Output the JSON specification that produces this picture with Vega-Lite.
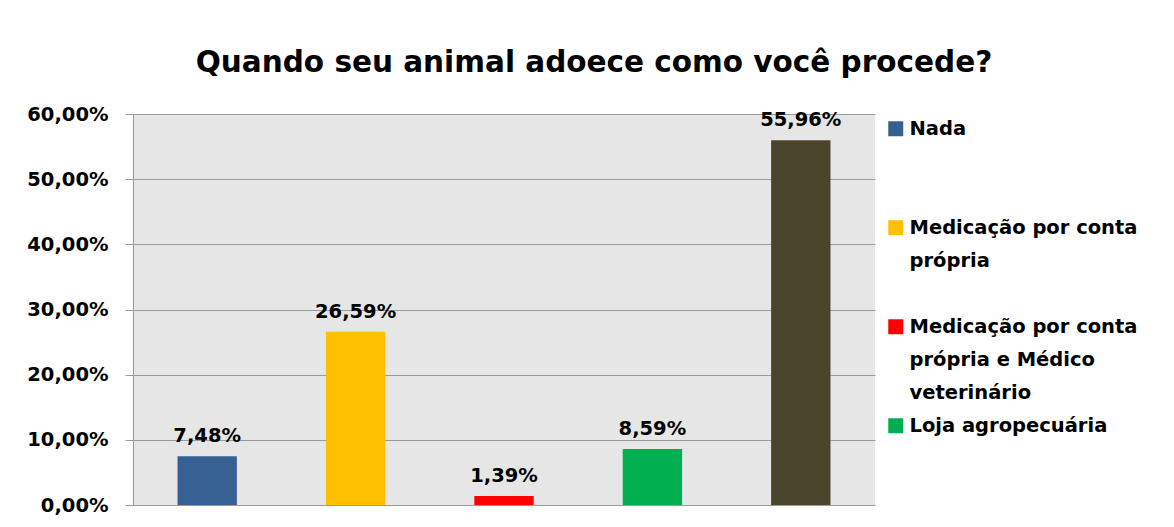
{
  "$schema": "https://vega.github.io/schema/vega-lite/v6.json",
  "autosize": {"type": "none"},
  "padding": {"left": 133, "top": 114, "right": 299, "bottom": 22},
  "width": 742,
  "height": 391,
  "background": "white",
  "title": {
    "text": "Quando seu animal adoece como você procede?",
    "font": "DejaVu Sans",
    "fontSize": 29.5,
    "fontWeight": "bold",
    "color": "black",
    "anchor": "middle",
    "frame": "group",
    "dx": 90,
    "baseline": "alphabetic",
    "offset": 3
  },
  "data": {
    "values": [
      {"categoria": "Nada", "valor": 0.0748},
      {"categoria": "Medicação por conta própria", "valor": 0.2659},
      {"categoria": "Medicação por conta própria e Médico veterinário", "valor": 0.0139},
      {"categoria": "Loja agropecuária", "valor": 0.0859},
      {"categoria": "Médico veterinário", "valor": 0.5596}
    ]
  },
  "encoding": {
    "x": {
      "field": "categoria",
      "type": "nominal",
      "sort": null,
      "scale": {"paddingInner": 0.6, "paddingOuter": 0.3},
      "axis": null
    },
    "y": {
      "field": "valor",
      "type": "quantitative",
      "scale": {"domain": [0, 0.6], "nice": false},
      "axis": {
        "values": [0, 0.1, 0.2, 0.3, 0.4, 0.5, 0.6],
        "format": ".2%",
        "title": null,
        "labelFont": "DejaVu Sans",
        "labelFontSize": 19.5,
        "labelFontWeight": "bold",
        "labelColor": "black",
        "labelPadding": 17,
        "tickSize": 8,
        "tickColor": "#9a9a9a",
        "domainColor": "#9a9a9a",
        "gridColor": "#9a9a9a",
        "grid": true
      }
    }
  },
  "layer": [
    {
      "mark": {"type": "bar"},
      "encoding": {
        "color": {
          "field": "categoria",
          "type": "nominal",
          "sort": null,
          "scale": {
            "domain": ["Nada", "Medicação por conta própria", "Medicação por conta própria e Médico veterinário", "Loja agropecuária", "Médico veterinário"],
            "range": ["#376092", "#ffc000", "#ff0000", "#00b050", "#4a452a"]
          },
          "legend": {
            "values": ["Nada", "Medicação por conta própria", "Medicação por conta própria e Médico veterinário", "Loja agropecuária"],
            "title": null,
            "orient": "right",
            "offset": 6,
            "padding": 5,
            "symbolType": "square",
            "symbolSize": 225,
            "symbolStrokeWidth": 0,
            "labelFont": "DejaVu Sans",
            "labelFontSize": 19.5,
            "labelFontWeight": "bold",
            "labelColor": "black",
            "labelLimit": 300,
            "labelOffset": 4,
            "gridAlign": "all",
            "rowPadding": 12,
            "labelExpr": "datum.label == 'Medicação por conta própria' ? ['Medicação por conta', 'própria'] : datum.label == 'Medicação por conta própria e Médico veterinário' ? ['Medicação por conta', 'própria e Médico', 'veterinário'] : datum.label"
          }
        }
      }
    },
    {
      "mark": {
        "type": "text",
        "baseline": "alphabetic",
        "dy": -14,
        "font": "DejaVu Sans",
        "fontSize": 19.5,
        "fontWeight": "bold",
        "color": "black"
      },
      "encoding": {
        "text": {"field": "valor", "type": "quantitative", "format": ".2%"}
      }
    }
  ],
  "config": {
    "locale": {"number": {"decimal": ",", "thousands": ".", "grouping": [3], "currency": ["R$", ""]}},
    "view": {"fill": "#e6e6e6", "stroke": null},
    "style": {"guide-label": {"lineHeight": 33}}
  }
}
